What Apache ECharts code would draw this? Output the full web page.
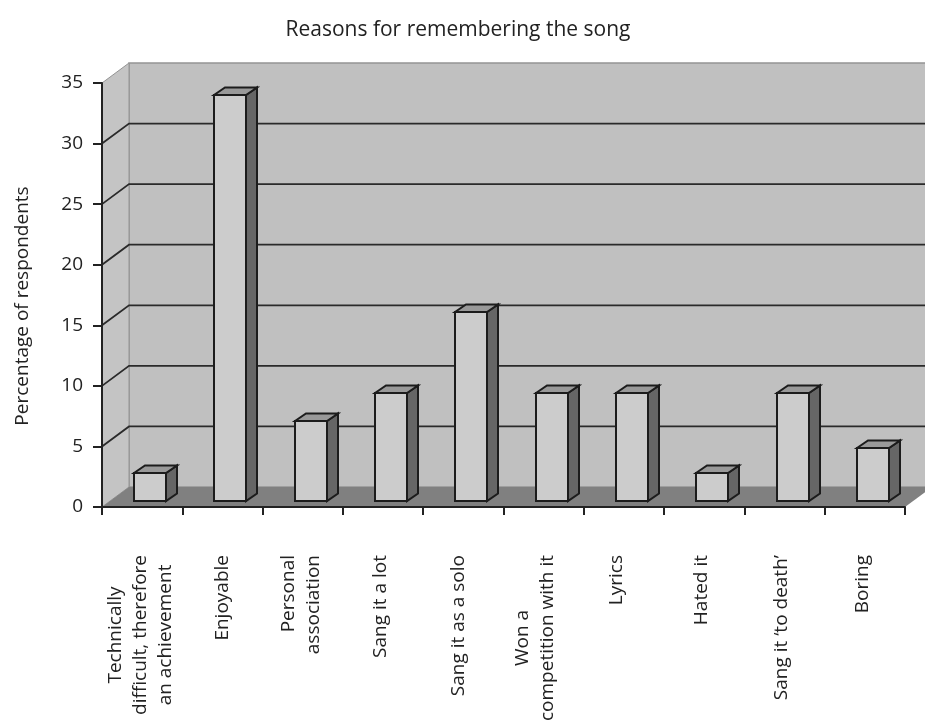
<!DOCTYPE html>
<html>
<head>
<meta charset="utf-8">
<style>html,body{margin:0;padding:0;background:#fff}#chart{width:925px;height:723px}</style>
<script src="https://cdn.jsdelivr.net/npm/echarts@6/dist/echarts.min.js"></script>
</head>
<body>
<div id="chart"></div>
<script>
// Survey answers: why respondents remember the song
const categories = [
  ['Technically', 'difficult, therefore', 'an achievement'],
  ['Enjoyable'],
  ['Personal', 'association'],
  ['Sang it a lot'],
  ['Sang it as a solo'],
  ['Won a', 'competition with it'],
  ['Lyrics'],
  ['Hated it'],
  ['Sang it \u2018to death\u2019'],
  ['Boring']
];
const centredLabels = [0, 5];
const labelNudge = [4, 0, 4, 4, 10, 18, 14, 6, 6, 4];
const percentages = [2.3, 33.5, 6.6, 8.9, 15.6, 8.9, 8.9, 2.3, 8.9, 4.4];
const yTicks = [0, 5, 10, 15, 20, 25, 30, 35];

// Oblique projection used for the box look
const WALL_DX = 27, WALL_DY = -20;
const BAR_DX = 11, BAR_DY = -7.5, BAR_W = 32;
const BAR_SHIFT_X = 8, BAR_SHIFT_Y = -6;
const FONT = 'Open Sans';
const INK = '#222';

const chart = echarts.init(document.getElementById('chart'));

function poly(points, fill, stroke, lineWidth) {
  return {
    type: 'polygon',
    shape: { points },
    style: { fill, stroke: stroke || null, lineWidth: lineWidth || 0 }
  };
}

function renderWalls(params, api) {
  const c = params.coordSys;
  const l = c.x, r = c.x + c.width, t = c.y, b = c.y + c.height;
  return {
    type: 'group',
    children: [
      poly([[l + WALL_DX, t + WALL_DY], [r + WALL_DX, t + WALL_DY], [r + WALL_DX, b + WALL_DY], [l + WALL_DX, b + WALL_DY]], '#c0c0c0', '#949494', 1.5),
      poly([[l, t], [l + WALL_DX, t + WALL_DY], [l + WALL_DX, b + WALL_DY], [l, b]], '#c4c4c4', '#949494', 1),
      poly([[l, b], [l + WALL_DX, b + WALL_DY], [r + WALL_DX, b + WALL_DY], [r, b]], '#808080')
    ]
  };
}

function renderGridLine(params, api) {
  const y = api.coord([0, api.value(0)])[1];
  const c = params.coordSys;
  const l = c.x, r = c.x + c.width + WALL_DX;
  return {
    type: 'polyline',
    shape: { points: [[l, y], [l + WALL_DX, y + WALL_DY], [r, y + WALL_DY]] },
    style: { fill: null, stroke: '#2a2a2a', lineWidth: 1.8 }
  };
}

function renderBar(params, api) {
  const cat = api.value(0);
  const top = api.coord([cat, api.value(1)]);
  const base = api.coord([cat, 0]);
  const x0 = Math.round(top[0] + BAR_SHIFT_X - BAR_W / 2);
  const x1 = x0 + BAR_W;
  const y0 = Math.round(top[1] + BAR_SHIFT_Y);
  const y1 = Math.round(base[1] + BAR_SHIFT_Y);
  const stroke = '#1c1c1c';
  return {
    type: 'group',
    children: [
      poly([[x1, y0], [x1 + BAR_DX, y0 + BAR_DY], [x1 + BAR_DX, y1 + BAR_DY], [x1, y1]], '#666666', stroke, 2),
      poly([[x0, y0], [x0 + BAR_DX, y0 + BAR_DY], [x1 + BAR_DX, y0 + BAR_DY], [x1, y0]], '#999999', stroke, 2),
      poly([[x0, y0], [x1, y0], [x1, y1], [x0, y1]], '#cccccc', stroke, 2)
    ]
  };
}

chart.setOption({
  animation: false,
  backgroundColor: '#ffffff',
  title: {
    text: 'Reasons for remembering the song',
    left: 453,
    top: 15,
    textAlign: 'center',
    textStyle: { fontFamily: FONT, fontSize: 21, fontWeight: 'normal', color: INK }
  },
  grid: { left: 102, right: 20, top: 83, bottom: 216, containLabel: false, outerBoundsMode: 'none' },
  xAxis: {
    type: 'category',
    data: categories.map((lines, i) => ({
      value: lines.join('\n'),
      textStyle: { padding: [0, 0, labelNudge[i], 0] }
    })),
    boundaryGap: true,
    z: 5,
    axisLine: { show: true, lineStyle: { color: '#222', width: 2 } },
    axisTick: { show: true, length: 8, alignWithLabel: false, lineStyle: { color: '#222', width: 2 } },
    axisLabel: {
      show: true,
      interval: 0,
      rotate: 90,
      margin: 48,
      hideOverlap: false,
      fontFamily: FONT,
      fontSize: 19,
      lineHeight: 25,
      color: INK,
      formatter: function (value, index) {
        if (centredLabels.indexOf(index) < 0) return value;
        return value.split('\n').map(s => '{c|' + s + '}').join('\n');
      },
      rich: { c: { align: 'center', fontFamily: FONT, fontSize: 19, lineHeight: 25, color: INK } }
    }
  },
  yAxis: {
    type: 'value',
    min: 0,
    max: 35,
    interval: 5,
    name: 'Percentage of respondents',
    nameLocation: 'middle',
    nameGap: 70,
    nameRotate: 90,
    nameTextStyle: { fontFamily: FONT, fontSize: 19, color: INK, padding: [0, 22, 0, 0] },
    z: 5,
    axisLine: { show: true, lineStyle: { color: '#222', width: 2 } },
    axisTick: { show: true, length: 9, lineStyle: { color: '#222', width: 2 } },
    axisLabel: { margin: 19, fontFamily: FONT, fontSize: 19, color: INK },
    splitLine: { show: false }
  },
  series: [
    { type: 'custom', silent: true, clip: false, z: 1, renderItem: renderWalls, data: [[0]] },
    { type: 'custom', silent: true, clip: false, z: 2, renderItem: renderGridLine,
      encode: { y: 0 }, data: yTicks.filter(v => v > 0 && v < 35).map(v => [v]) },
    { type: 'custom', clip: false, z: 3, renderItem: renderBar,
      encode: { x: 0, y: 1 }, data: percentages.map((v, i) => [i, v]) }
  ]
});
</script>
</body>
</html>
